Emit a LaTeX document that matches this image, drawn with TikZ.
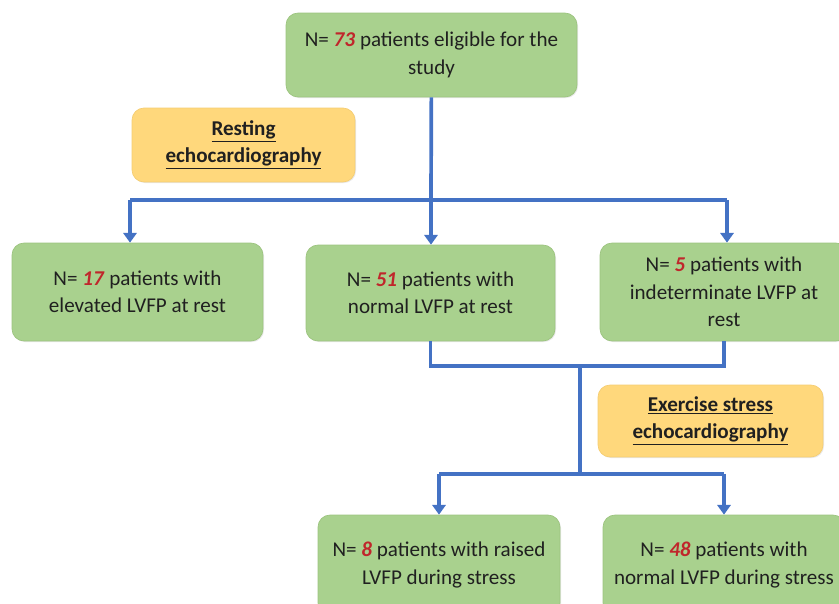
\documentclass[tikz,border=0pt]{standalone}
\usepackage{fontspec}
\setmainfont{Carlito}
\usepackage{tikz}
\usetikzlibrary{shadows}
\usetikzlibrary{positioning}
\usetikzlibrary{arrows.meta,calc}
\definecolor{boxgreen}{HTML}{A9D18E}
\definecolor{boxgreenline}{HTML}{9CC47F}
\definecolor{boxgold}{HTML}{FFD87C}
\definecolor{boxgoldline}{HTML}{F5CD72}
\definecolor{linkblue}{HTML}{4472C4}
\definecolor{numred}{HTML}{C0262B}
\definecolor{txt}{HTML}{202020}
\tikzstyle{result}=[rounded corners=0.24cm, fill=boxgreen, draw=boxgreenline, thin, align=center, text=txt, font=\fontsize{12}{15.6}\selectfont, drop shadow={opacity=0.18, shadow xshift=0.6pt, shadow yshift=-0.6pt}]
\tikzstyle{exam}=[result, fill=boxgold, draw=boxgoldline, font=\bfseries\fontsize{12}{15.6}\selectfont]
\tikzstyle{link} = [draw, line width=2.1pt, linkblue]
\tikzstyle{flow} = [link, -{Triangle[length=5.5pt,width=7.5pt]}]
\newcommand{\nval}[1]{\textcolor{numred}{\textbf{\textit{#1}}}}

\begin{document}
\begin{tikzpicture}[x=0.02cm, y=-0.02cm]

  \useasboundingbox (0,0) rectangle (839,604);

  % patient boxes
  \foreach \x/\y/\name/\w/\h/\txt in {
      431.5/55/top/5.82/1.68/{N= \nval{73} patients eligible for the\\study},
      137.5/292/b1/5.02/1.96/{N= \nval{17} patients with\\elevated LVFP at rest},
      430.5/293/b2/4.98/1.92/{N= \nval{51} patients with\\normal LVFP at rest},
      724/292/b3/4.96/1.96/{N= \nval{5} patients with\\indeterminate LVFP at\\rest},
      439/565/c1/4.84/2.0/{N= \nval{8} patients with raised\\LVFP during stress},
      724/565/c2/4.84/2.0/{N= \nval{48} patients with\\normal LVFP during stress}}
          \node[result, minimum width=\w cm, minimum height=\h cm] (\name) at (\x, \y) {\txt};

  % examinations
  \node[exam, minimum width=4.46cm, minimum height=1.48cm] (rest) at (243.5,145) {\underline{Resting}\\\underline{echocardiography}};
  \node[exam, minimum width=4.5cm, minimum height=1.44cm] (stress) at (710.5,421) {\underline{Exercise stress}\\\underline{echocardiography}};

  % first split
  \coordinate (j1) at (431,200);
  \coordinate (j1L) at (130,200);
  \coordinate (j1R) at (727,200);
  \draw[link] (top) -- (j1);
  \draw[link] (j1L) -- (j1R);
  \draw[flow] (j1L) -- (j1L |- b1.north);
  \draw[flow] (j1) -- (j1 |- b2.north);
  \draw[flow] (j1R) -- (j1R |- b3.north);

  % merge and second split
  \coordinate (j2) at (580,366);
  \coordinate (j3) at (580,474);
  \draw[link] (b2.south) -- (b2.south |- j2) -- (b3.south |- j2) -- (b3.south);
  \draw[link] (j2) -- (j3);
  \draw[link] (c1.north |- j3) -- (c2.north |- j3);
  \draw[flow] (c1.north |- j3) -- (c1.north);
  \draw[flow] (c2.north |- j3) -- (c2.north);

\end{tikzpicture}
\end{document}
